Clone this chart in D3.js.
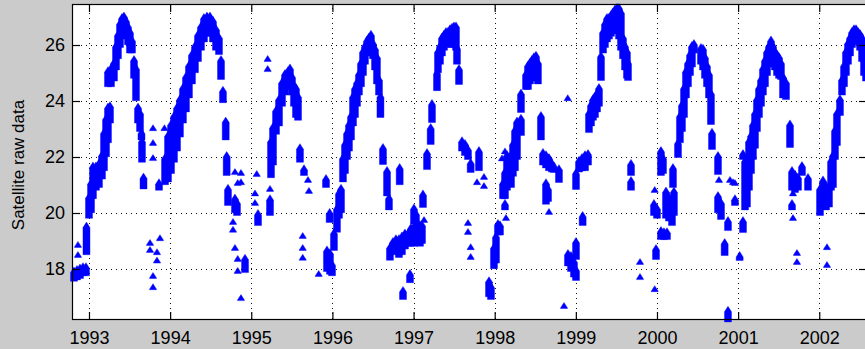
<!DOCTYPE html>
<html>
<head>
<meta charset="utf-8">
<script src="https://cdn.jsdelivr.net/npm/d3@7"></script>
<style>
  html, body { margin: 0; padding: 0; background: #cbcbcb; }
  svg { display: block; }
  .tickText { font-family: "Liberation Sans", Arial, sans-serif; font-size: 18px; fill: #000; }
</style>
</head>
<body>
<svg id="chart" width="865" height="349"></svg>
<script>
// Satellite raw data, one entry per cluster of readings: [decimal year, lowest value, highest value]
// (single readings have lowest == highest)
const season1993 = [
  [1992.815, 17.65, 17.95], [1992.852, 17.7, 18.0], [1992.889, 17.75, 18.05], [1992.926, 17.85, 18.1], [1992.963, 17.85, 18.1],
  [1992.864, 18.86, 18.86], [1992.864, 18.5, 18.5], [1992.969, 18.6, 19.55],
  [1993.0, 19.9, 20.6], [1993.025, 20.1, 21.1], [1993.049, 20.6, 21.7], [1993.086, 20.9, 21.7], [1993.123, 21.0, 21.8],
  [1993.160, 21.3, 22.1], [1993.185, 21.6, 22.9], [1993.210, 22.1, 23.4], [1993.234, 22.6, 23.8], [1993.259, 23.3, 23.85],
  [1993.234, 24.6, 25.1], [1993.271, 24.6, 25.2], [1993.308, 24.8, 25.4], [1993.333, 25.2, 26.0], [1993.357, 25.6, 26.4],
  [1993.382, 26.0, 26.8], [1993.407, 26.4, 27.0], [1993.431, 26.5, 27.05], [1993.456, 26.3, 26.9], [1993.481, 26.1, 26.7],
  [1993.505, 25.8, 26.5], [1993.530, 25.8, 26.2],
  [1993.555, 24.9, 25.5], [1993.579, 24.1, 25.2], [1993.604, 23.3, 23.8], [1993.629, 23.0, 23.6], [1993.647, 22.7, 22.9],
  [1993.653, 21.9, 22.6], [1993.672, 20.95, 21.3],
  [1993.789, 23.03, 23.03], [1993.789, 22.5, 22.5], [1993.789, 21.96, 21.96], [1993.930, 23.03, 23.03], [1993.863, 20.9, 21.1],
  [1993.752, 18.93, 18.93], [1993.752, 18.68, 18.68], [1993.875, 19.1, 19.1], [1993.838, 18.6, 18.6], [1993.838, 18.3, 18.3],
  [1993.789, 17.75, 17.75], [1993.789, 17.35, 17.35]
];

const season1994 = [
  [1993.937, 21.1, 22.0], [1993.974, 21.2, 22.8], [1994.011, 21.5, 23.2], [1994.048, 21.9, 23.5], [1994.085, 22.3, 23.8],
  [1994.121, 22.8, 24.1], [1994.158, 23.3, 24.5], [1994.195, 23.7, 24.9], [1994.232, 24.2, 25.3], [1994.269, 24.7, 25.7],
  [1994.306, 25.1, 26.0], [1994.343, 25.5, 26.4], [1994.380, 25.9, 26.7], [1994.417, 26.2, 27.0], [1994.454, 26.4, 27.05],
  [1994.491, 26.4, 27.05], [1994.528, 26.2, 26.9], [1994.565, 25.9, 26.6], [1994.602, 25.75, 26.3],
  [1994.627, 24.86, 25.5], [1994.651, 24.03, 24.4], [1994.685, 22.7, 23.3], [1994.697, 21.43, 22.07], [1994.713, 20.36, 20.9],
  [1994.799, 21.46, 21.46], [1994.873, 21.43, 21.43], [1994.873, 21.1, 21.1], [1994.833, 21.07, 21.07],
  [1994.799, 20.1, 20.55], [1994.824, 20.0, 20.4],
  [1994.775, 19.68, 19.68], [1994.775, 19.4, 19.4], [1994.799, 18.75, 18.75], [1994.833, 18.36, 18.36], [1994.833, 17.93, 17.93],
  [1994.923, 17.96, 18.4], [1994.873, 16.96, 16.96],
  [1995.067, 21.39, 21.39], [1995.046, 20.7, 20.7], [1995.046, 20.36, 20.36], [1995.083, 19.64, 20.0],
  [1995.202, 25.5, 25.5], [1995.202, 25.14, 25.14], [1995.231, 20.86, 20.86], [1995.231, 20.0, 20.53]
];

const season1995 = [
  [1995.243, 21.35, 22.6], [1995.268, 21.8, 23.1], [1995.305, 22.9, 23.7], [1995.342, 23.2, 24.1], [1995.379, 23.9, 24.7],
  [1995.416, 24.3, 25.0], [1995.453, 24.5, 25.1], [1995.477, 24.6, 25.2], [1995.502, 24.3, 24.9], [1995.526, 23.9, 24.6],
  [1995.551, 23.5, 24.5], [1995.576, 23.4, 24.2],
  [1995.600, 21.9, 22.35], [1995.650, 21.43, 21.6], [1995.699, 21.18, 21.18], [1995.711, 20.79, 20.79],
  [1995.634, 19.18, 19.18], [1995.634, 18.75, 18.75], [1995.634, 18.4, 18.4], [1995.831, 17.82, 17.82],
  [1995.921, 21.0, 21.25], [1995.933, 18.0, 18.7], [1995.970, 17.9, 18.6], [1995.995, 17.85, 18.2],
  [1995.966, 19.75, 20.04], [1996.019, 18.75, 19.32]
];

const season1996 = [
  [1996.056, 19.4, 20.2], [1996.081, 19.9, 20.75], [1996.106, 20.1, 20.9], [1996.130, 21.2, 22.0], [1996.155, 21.5, 22.5],
  [1996.180, 22.0, 22.9], [1996.204, 22.3, 23.2], [1996.229, 22.7, 23.5], [1996.254, 23.2, 24.2], [1996.278, 23.5, 24.5],
  [1996.303, 23.9, 24.7], [1996.327, 24.3, 25.0], [1996.352, 24.6, 25.4], [1996.377, 25.0, 25.8], [1996.401, 25.4, 26.0],
  [1996.426, 25.7, 26.2], [1996.451, 25.8, 26.3], [1996.475, 25.9, 26.4], [1996.500, 25.6, 26.1], [1996.525, 25.2, 25.9],
  [1996.549, 24.7, 25.6], [1996.574, 24.3, 24.8], [1996.592, 23.5, 24.2],
  [1996.623, 21.82, 22.36], [1996.673, 20.7, 21.54], [1996.697, 20.2, 20.57], [1996.829, 21.1, 21.64],
  [1996.709, 18.4, 18.8], [1996.746, 18.6, 19.0], [1996.783, 18.7, 19.1], [1996.820, 18.5, 19.1], [1996.857, 18.6, 19.2],
  [1996.894, 18.8, 19.3], [1996.931, 18.9, 19.3], [1996.968, 18.9, 19.5],
  [1996.956, 17.6, 17.86], [1996.870, 17.0, 17.25]
];

const season1997 = [
  [1997.005, 19.7, 20.2], [1997.030, 19.6, 20.0], [1997.005, 18.9, 19.5], [1997.042, 19.0, 19.5], [1997.079, 18.9, 19.6],
  [1997.104, 19.0, 19.6], [1997.129, 19.75, 19.75],
  [1997.116, 20.29, 20.7], [1997.166, 21.64, 22.18], [1997.211, 22.54, 23.07], [1997.227, 23.32, 23.93], [1997.289, 24.46, 25.04],
  [1997.301, 25.1, 25.8], [1997.326, 25.4, 26.0], [1997.350, 25.7, 26.3], [1997.375, 25.9, 26.4], [1997.400, 26.0, 26.5],
  [1997.424, 26.1, 26.5], [1997.449, 26.1, 26.6], [1997.474, 26.0, 26.65], [1997.498, 26.0, 26.7], [1997.523, 25.9, 26.7],
  [1997.535, 25.4, 25.93], [1997.560, 24.68, 25.18],
  [1997.597, 22.3, 22.6], [1997.634, 22.14, 22.5], [1997.671, 22.0, 22.3], [1997.704, 21.54, 21.82], [1997.806, 21.6, 22.25],
  [1997.782, 21.1, 21.1], [1997.868, 21.29, 21.29], [1997.868, 20.96, 20.96],
  [1997.671, 19.64, 19.64], [1997.671, 19.32, 19.32], [1997.704, 18.78, 18.78], [1997.704, 18.43, 18.43],
  [1997.930, 17.1, 17.6], [1997.954, 17.0, 17.4]
];

const season1998 = [
  [1997.991, 18.1, 18.8], [1998.016, 18.3, 19.2], [1998.040, 19.3, 19.64], [1998.065, 19.3, 19.6], [1998.127, 20.2, 20.36],
  [1998.139, 19.82, 19.82], [1998.102, 20.6, 21.1], [1998.127, 20.6, 21.5], [1998.151, 20.9, 22.1], [1998.176, 21.2, 22.0],
  [1998.201, 21.0, 22.1], [1998.225, 21.4, 22.5], [1998.250, 21.6, 23.0], [1998.275, 22.0, 23.3], [1998.090, 21.95, 21.95],
  [1998.127, 22.2, 22.2],
  [1998.324, 23.68, 24.3], [1998.324, 22.86, 23.4], [1998.386, 24.5, 25.0], [1998.410, 24.5, 25.3], [1998.435, 24.7, 25.4],
  [1998.459, 24.8, 25.5], [1998.484, 25.0, 25.6], [1998.509, 25.0, 25.65], [1998.533, 24.7, 25.4],
  [1998.570, 22.7, 23.5], [1998.595, 21.8, 22.18], [1998.632, 21.7, 22.1], [1998.669, 21.6, 22.0], [1998.706, 21.55, 21.8],
  [1998.731, 21.54, 21.7], [1998.792, 21.18, 21.6], [1998.632, 20.4, 21.1], [1998.657, 20.5, 20.9], [1998.669, 20.04, 20.04],
  [1998.900, 24.1, 24.1], [1998.854, 16.68, 16.68], [1998.903, 18.2, 18.57], [1998.940, 18.0, 18.5], [1998.977, 17.8, 18.3],
  [1999.002, 17.68, 18.0], [1999.002, 18.43, 19.0], [1999.002, 20.93, 21.46]
];

const season1999 = [
  [1999.039, 21.55, 21.9], [1999.076, 21.6, 22.0], [1999.113, 21.6, 22.1], [1999.150, 21.8, 22.14], [1999.084, 19.64, 19.93],
  [1999.162, 22.96, 23.6], [1999.187, 23.2, 23.9], [1999.211, 23.4, 24.1], [1999.236, 23.5, 24.2], [1999.261, 23.7, 24.3],
  [1999.285, 23.9, 24.5], [1999.310, 24.82, 25.64], [1999.335, 25.8, 26.5], [1999.359, 26.0, 26.8], [1999.384, 26.2, 27.0],
  [1999.408, 26.3, 27.0], [1999.433, 26.4, 27.1], [1999.458, 26.5, 27.2], [1999.482, 26.5, 27.3], [1999.507, 26.5, 27.36],
  [1999.532, 26.3, 27.36], [1999.556, 25.9, 27.2], [1999.581, 25.6, 26.3], [1999.606, 25.2, 26.0], [1999.630, 24.9, 25.8],
  [1999.643, 24.82, 25.4],
  [1999.680, 21.43, 21.79], [1999.680, 20.9, 21.18], [1999.791, 18.25, 18.25], [1999.791, 17.71, 17.71]
];

const season2000 = [
  [1999.963, 20.0, 20.36], [2000.0, 19.9, 20.2], [1999.972, 20.82, 20.82], [1999.988, 18.43, 18.75], [1999.972, 17.28, 17.28],
  [2000.049, 21.43, 22.25], [2000.074, 21.5, 22.0], [2000.049, 19.14, 19.39], [2000.086, 19.14, 19.35], [2000.123, 19.14, 19.35],
  [2000.111, 19.9, 20.8], [2000.148, 19.8, 20.6], [2000.185, 19.64, 20.5], [2000.209, 20.0, 20.8], [2000.197, 21.0, 21.64],
  [2000.259, 22.07, 22.54], [2000.283, 22.6, 23.5], [2000.308, 23.0, 23.9], [2000.333, 23.5, 24.5], [2000.357, 24.2, 25.1],
  [2000.382, 24.6, 25.4], [2000.407, 25.0, 25.7], [2000.431, 25.3, 26.0], [2000.456, 25.8, 26.07],
  [2000.542, 25.4, 25.93], [2000.567, 25.2, 25.9], [2000.591, 24.9, 25.6], [2000.616, 24.6, 25.3], [2000.641, 24.2, 25.0],
  [2000.665, 23.25, 24.3], [2000.678, 22.36, 22.9],
  [2000.752, 21.46, 22.07], [2000.764, 21.18, 21.18], [2000.752, 20.1, 20.64], [2000.789, 19.86, 20.4], [2000.875, 19.46, 19.75],
  [2000.834, 18.57, 18.96], [2000.900, 21.18, 21.18], [2000.937, 21.1, 21.1], [2000.961, 21.07, 21.07], [2000.961, 20.36, 20.53],
  [2000.875, 16.2, 16.54],
  [2001.019, 18.39, 18.5], [2001.060, 22.0, 22.14], [2001.060, 19.39, 19.75]
];

const season2001 = [
  [2001.085, 20.2, 21.9], [2001.109, 20.3, 21.9], [2001.134, 20.9, 22.6], [2001.159, 21.5, 22.8], [2001.183, 22.0, 23.2],
  [2001.208, 22.4, 23.6], [2001.232, 23.0, 24.1], [2001.257, 23.5, 24.5], [2001.282, 23.9, 24.8], [2001.306, 24.3, 25.2],
  [2001.331, 24.6, 25.5], [2001.356, 25.0, 25.8], [2001.380, 25.3, 26.0], [2001.405, 25.5, 26.2], [2001.430, 25.4, 26.0],
  [2001.454, 25.2, 25.8], [2001.479, 25.0, 25.7], [2001.504, 24.9, 25.6], [2001.528, 24.86, 25.4], [2001.553, 24.2, 24.9],
  [2001.590, 24.14, 24.7],
  [2001.639, 22.43, 23.2], [2001.664, 20.9, 21.54], [2001.701, 20.82, 21.4], [2001.738, 20.9, 21.3], [2001.676, 20.7, 20.7],
  [2001.787, 21.43, 21.71], [2001.861, 20.9, 21.29], [2001.664, 20.2, 20.36], [2001.676, 19.82, 19.82],
  [2001.725, 18.57, 18.57], [2001.725, 18.25, 18.25]
];

const season2002 = [
  [2002.009, 20.0, 20.9], [2002.046, 20.3, 21.2], [2002.083, 20.2, 21.0], [2002.120, 20.3, 21.0],
  [2002.095, 18.78, 18.78], [2002.095, 18.14, 18.14],
  [2002.145, 20.9, 21.9], [2002.169, 21.0, 22.1], [2002.194, 22.0, 23.0], [2002.218, 22.5, 23.6], [2002.255, 23.57, 24.1],
  [2002.280, 24.3, 24.8], [2002.305, 24.6, 25.3], [2002.329, 25.0, 25.8], [2002.354, 25.4, 26.1], [2002.379, 25.7, 26.3],
  [2002.403, 26.0, 26.5], [2002.428, 26.2, 26.6], [2002.453, 26.2, 26.6], [2002.477, 26.1, 26.5], [2002.502, 25.9, 26.43],
  [2002.527, 25.5, 26.3], [2002.551, 25.0, 26.0], [2002.576, 24.8, 25.5]
];

const yearTicks = [1993, 1994, 1995, 1996, 1997, 1998, 1999, 2000, 2001, 2002];
const valueTicks = [18, 20, 22, 24, 26];
const xDomain = [1992.803, 2002.576];
const yDomain = [16.214, 27.429];
const yLabel = 'Satellite raw data';

const observations = [].concat(season1993, season1994, season1995, season1996, season1997,
  season1998, season1999, season2000, season2001, season2002);

// axes box (matlab style figure)
const plot = { left: 73, top: 5, right: 866, bottom: 319 };
const tickLen = 7;

const svg = d3.select('#chart');

const x = d3.scaleLinear().domain(xDomain).range([plot.left, plot.right]);
const y = d3.scaleLinear().domain(yDomain).range([plot.bottom, plot.top]);

// white axes background
svg.append('rect')
  .attr('x', plot.left)
  .attr('y', plot.top)
  .attr('width', plot.right - plot.left)
  .attr('height', plot.bottom - plot.top)
  .attr('fill', '#fff');

// dotted grid
const grid = svg.append('g').attr('class', 'grid')
  .attr('stroke', '#111')
  .attr('stroke-width', 1)
  .attr('stroke-dasharray', '1,4');

grid.selectAll('.vgrid')
  .data(yearTicks)
  .enter()
  .append('line')
  .attr('x1', d => Math.round(x(d)) + 0.5)
  .attr('x2', d => Math.round(x(d)) + 0.5)
  .attr('y1', plot.top + 3)
  .attr('y2', plot.bottom);

grid.selectAll('.hgrid')
  .data(valueTicks)
  .enter()
  .append('line')
  .attr('y1', d => Math.round(y(d)) + 0.5)
  .attr('y2', d => Math.round(y(d)) + 0.5)
  .attr('x1', plot.left + 3)
  .attr('x2', plot.right);

// data: each cluster is a column of triangle markers
const plotArea = svg.append('g');
const half = 3.5;

plotArea.selectAll('.obs')
  .data(observations)
  .enter()
  .append('path')
  .attr('class', 'obs')
  .attr('fill', '#0000ff')
  .attr('stroke', '#0000ff')
  .attr('stroke-width', 0.4)
  .attr('d', d => {
    const cx = x(d[0]);
    const yLo = y(d[1]);
    const yHi = y(d[2]);
    return `M${cx - half},${yLo + 2.5}L${cx + half},${yLo + 2.5}L${cx + half},${yHi + 2}L${cx},${yHi - 3.5}L${cx - half},${yHi + 2}Z`;
  });

// axes (ticks point inwards, on all four sides)
const xAxis = d3.axisBottom(x)
  .tickValues(yearTicks)
  .tickFormat(d3.format('d'))
  .tickSizeInner(-tickLen)
  .tickSizeOuter(0)
  .tickPadding(12);

const yAxis = d3.axisLeft(y)
  .tickValues(valueTicks)
  .tickFormat(d3.format('d'))
  .tickSizeInner(-tickLen)
  .tickSizeOuter(0)
  .tickPadding(8);

svg.append('g')
  .attr('transform', `translate(0,${plot.bottom})`)
  .call(xAxis);

svg.append('g')
  .attr('transform', `translate(${plot.left},0)`)
  .call(yAxis);

svg.append('g')
  .attr('transform', `translate(0,${plot.top})`)
  .call(d3.axisTop(x).tickValues(yearTicks).tickSizeInner(-tickLen).tickSizeOuter(0).tickFormat(''));

svg.append('g')
  .attr('transform', `translate(${plot.right},0)`)
  .call(d3.axisRight(y).tickValues(valueTicks).tickSizeInner(-tickLen).tickSizeOuter(0).tickFormat(''));

svg.selectAll('.domain').remove();
svg.selectAll('.tick line').attr('stroke', '#000').attr('stroke-width', 1.2);
svg.selectAll('.tick text')
  .attr('class', 'tickText')
  .attr('fill', '#000');

// frame
svg.append('rect')
  .attr('x', plot.left - 0.5)
  .attr('y', plot.top - 0.5)
  .attr('width', plot.right - plot.left + 1)
  .attr('height', plot.bottom - plot.top + 1)
  .attr('fill', 'none')
  .attr('stroke', '#000')
  .attr('stroke-width', 1.2);

// y label
svg.append('text')
  .attr('class', 'tickText')
  .attr('transform', `translate(24,${(plot.top + plot.bottom) / 2 + 3}) rotate(-90)`)
  .attr('text-anchor', 'middle')
  .style('font-size', '17px')
  .text(yLabel);
</script>
</body>
</html>
